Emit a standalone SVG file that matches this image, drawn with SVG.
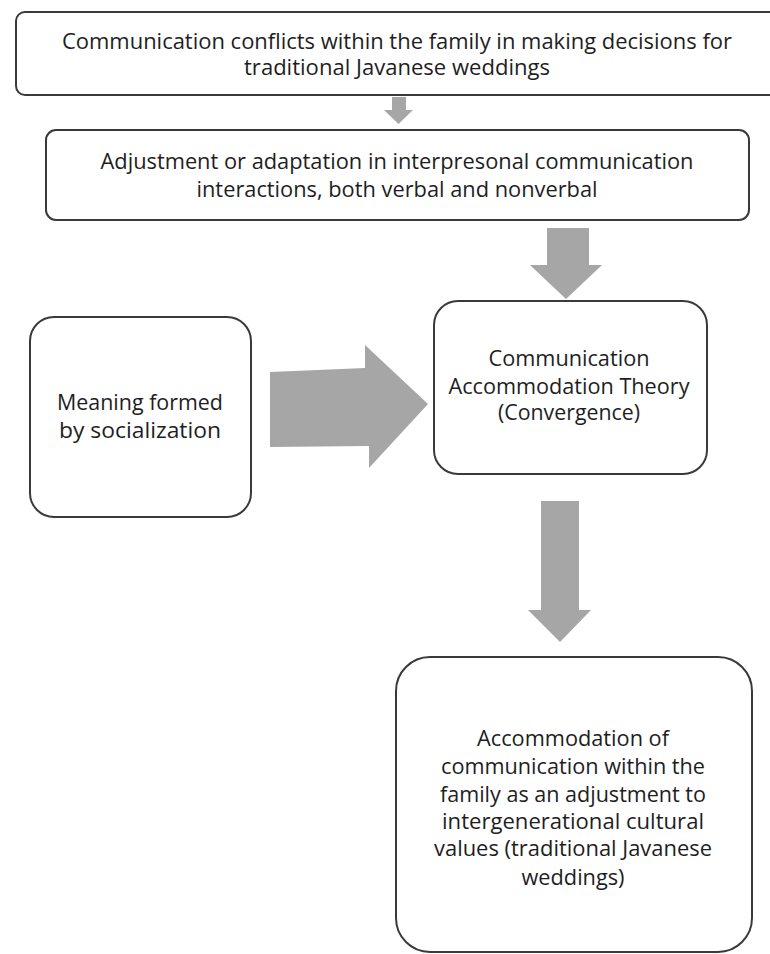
<svg xmlns="http://www.w3.org/2000/svg" width="770" height="954" viewBox="0 0 770 954">
<style>
.box{fill:#fff;stroke:#3a3a3a;stroke-width:2}
.t{font-family:"Open Sans",Lato,"Liberation Sans",sans-serif;font-size:21px;fill:#1e1e1e;text-anchor:middle}
.arr{fill:#a6a6a6;stroke:none}
</style>
<rect width="770" height="954" fill="#fff"/>
<g id="connectors">
<polygon class="arr" points="392,97 406,97 406,110 413,110 398.5,124 384,110 392,110"/>
<polygon class="arr" points="547,228 589,228 589,265 602,265 566,299 530,265 547,265"/>
<polygon class="arr" points="270,372 365,368 365,345 428,404 369,468 369,446 270,447"/>
<polygon class="arr" points="541,501 579,501 579,610 591,610 560,642 528,610 541,610"/>
</g>
<g id="n1">
<rect class="box" x="16" y="12" width="780" height="83" rx="9"/>
<text class="t" x="397" y="49" textLength="670" lengthAdjust="spacingAndGlyphs">Communication conflicts within the family in  making decisions for</text>
<text class="t" x="397" y="75" textLength="306" lengthAdjust="spacingAndGlyphs">traditional Javanese weddings</text>
</g>
<g id="n2">
<rect class="box" x="46" y="130" width="703" height="90" rx="10"/>
<text class="t" x="397" y="169" textLength="593" lengthAdjust="spacingAndGlyphs">Adjustment or adaptation in interpresonal communication</text>
<text class="t" x="397" y="197" textLength="401" lengthAdjust="spacingAndGlyphs">interactions, both verbal and nonverbal</text>
</g>
<g id="n3">
<rect class="box" x="30" y="317" width="221" height="200" rx="24"/>
<text class="t" x="140" y="410" textLength="166" lengthAdjust="spacingAndGlyphs">Meaning formed</text>
<text class="t" x="140" y="438" textLength="162" lengthAdjust="spacingAndGlyphs">by socialization</text>
</g>
<g id="n4">
<rect class="box" x="434" y="301" width="273" height="173" rx="24"/>
<text class="t" x="569" y="366" textLength="161" lengthAdjust="spacingAndGlyphs">Communication</text>
<text class="t" x="569" y="394" textLength="241" lengthAdjust="spacingAndGlyphs">Accommodation Theory</text>
<text class="t" x="569" y="420" textLength="142" lengthAdjust="spacingAndGlyphs">(Convergence)</text>
</g>
<g id="n5">
<rect class="box" x="396" y="657" width="356" height="295" rx="34"/>
<text class="t" x="573" y="746" textLength="192" lengthAdjust="spacingAndGlyphs">Accommodation of</text>
<text class="t" x="573" y="774" textLength="264" lengthAdjust="spacingAndGlyphs">communication within the</text>
<text class="t" x="573" y="802" textLength="266" lengthAdjust="spacingAndGlyphs">family as an adjustment to</text>
<text class="t" x="573" y="829" textLength="262" lengthAdjust="spacingAndGlyphs">intergenerational cultural</text>
<text class="t" x="573" y="856" textLength="278" lengthAdjust="spacingAndGlyphs">values (traditional Javanese</text>
<text class="t" x="573" y="885" textLength="103" lengthAdjust="spacingAndGlyphs">weddings)</text>
</g>
</svg>
